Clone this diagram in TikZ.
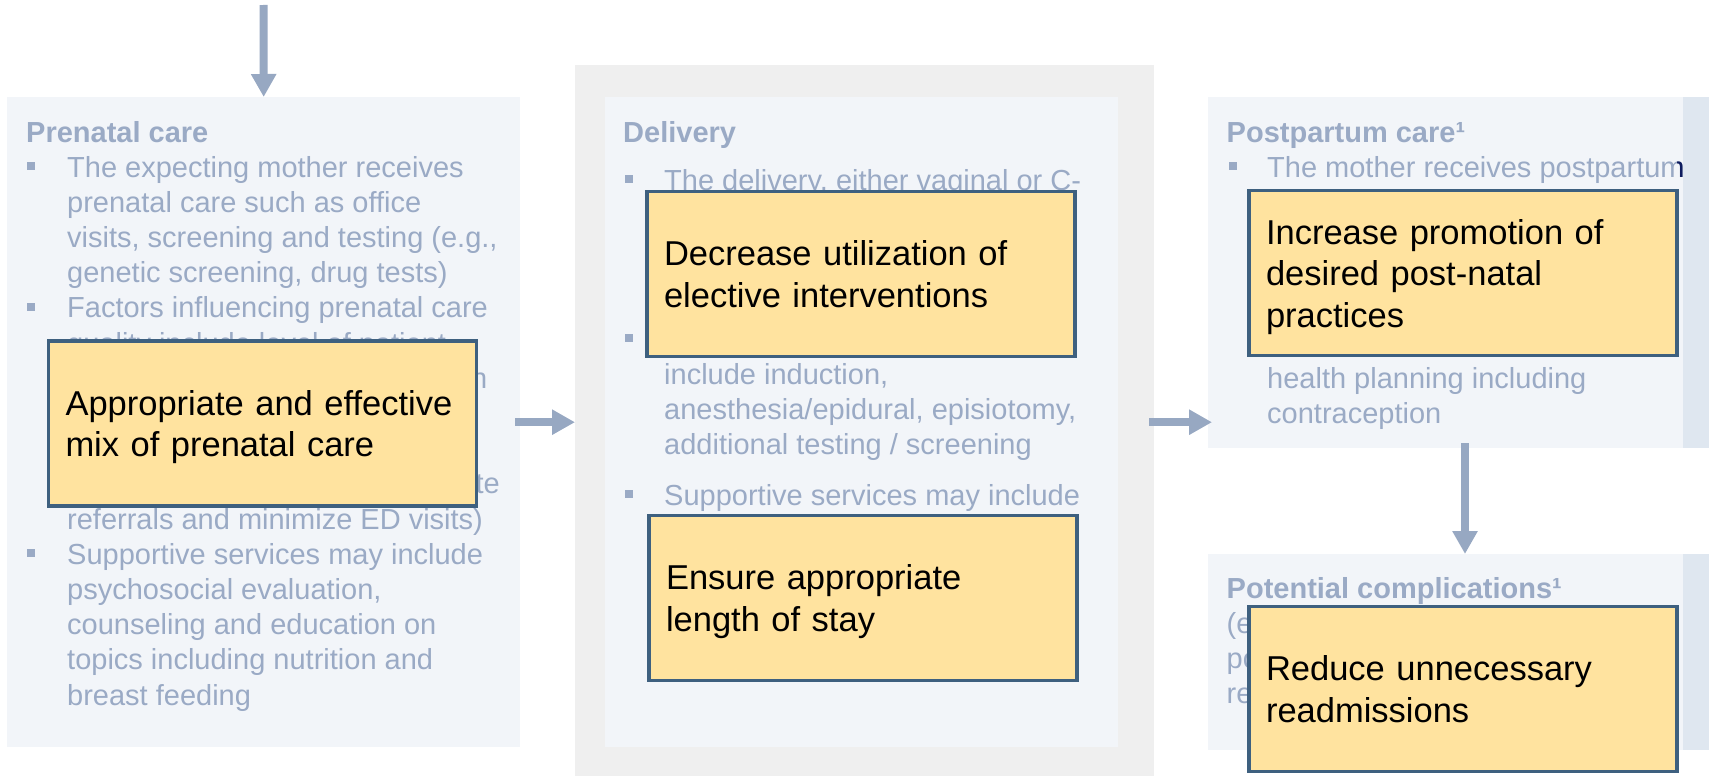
\documentclass[tikz,border=0pt]{standalone}
\usepackage{fontspec}
\setmainfont{Liberation Sans}
\usetikzlibrary{arrows.meta}

\definecolor{boxfill}{HTML}{F2F5F9}
\definecolor{outergray}{HTML}{EFEFEF}
\definecolor{stripblue}{HTML}{DFE7F0}
\definecolor{mutedtext}{HTML}{9AAAC5}
\definecolor{flowblue}{HTML}{97A8C2}
\definecolor{goalfill}{HTML}{FFE39F}
\definecolor{goalborder}{HTML}{3E607F}
\definecolor{inknavy}{HTML}{0D1B5E}

\newcommand\bodyfont{\fontsize{29}{35.2}\selectfont}
\newcommand\goalfont{\fontsize{34.5}{41.5}\selectfont}
% last line of a goal box: no depth, so the block centres on its baselines
\newcommand\lastline[1]{\raisebox{0pt}[\height][0pt]{#1}}

\tikzset{
  panel/.style={fill=#1, draw=none, inner sep=0pt, anchor=north west},
  bodytext/.style={text=mutedtext, font=\bodyfont, inner sep=0pt, anchor=base west},
  headtext/.style={bodytext, font=\bodyfont\bfseries},
  bulletsq/.style={fill=mutedtext, draw=none, inner sep=0pt, minimum size=8pt},
  goal/.style={draw=goalborder, line width=3.6pt, fill=goalfill,
    minimum width=428pt, minimum height=165pt, text width=394pt,
    inner xsep=17pt, inner ysep=0pt, align=left,
    font=\goalfont, text=black},
  flow/.style={draw=flowblue, line width=8pt,
    -{Triangle[width=24pt,length=23pt]}},
}

\begin{document}
\begin{tikzpicture}[x=1pt,y=-1pt]
\useasboundingbox (0,0) rectangle (1709,776);

% panels
\node[panel=outergray, minimum width=579pt, minimum height=714pt] (dout) at (575,65) {};
\node[panel=boxfill, minimum width=513pt, minimum height=650pt] (pre) at (7,97) {};
\node[panel=boxfill, minimum width=513pt, minimum height=650pt] (din) at (605,97) {};
\node[panel=boxfill, minimum width=475pt, minimum height=351pt] (post) at (1208,97) {};
\node[panel=boxfill, minimum width=475pt, minimum height=196pt] (comp) at (1208,554) {};
\node[panel=stripblue, minimum width=30pt, minimum height=351pt] (stripa) at (1683,97) {};
\node[panel=stripblue, minimum width=30pt, minimum height=196pt] (stripb) at (1683,554) {};

% prenatal care
\node[headtext] (pre-h) at (26,142) {Prenatal care};
\foreach \t [count=\k from 0] in {{The expecting mother receives},{prenatal care such as office},
  {visits, screening and testing (e.g.,},{genetic screening, drug tests)},
  {Factors influencing prenatal care},{quality include level of patient}}
  \node[bodytext] (pre-a\k) at (67,177+35.2*\k) {\t};
\node[bodytext, anchor=base east] (pre-f6) at (487.5,388.2) {n};
\node[bodytext, anchor=base east] (pre-f9) at (500,493.8) {te};
\foreach \t [count=\k from 10] in {{referrals and minimize ED visits)},{Supportive services may include},
  {psychosocial evaluation,},{counseling and education on},
  {topics including nutrition and},{breast feeding}}
  \node[bodytext] (pre-b\k) at (67,177+35.2*\k) {\t};
\node[bulletsq] (pre-s1) at (31,166) {};
\node[bulletsq] (pre-s2) at (31,306.8) {};
\node[bulletsq] (pre-s3) at (31,553.2) {};

% delivery
\node[headtext] (del-h) at (623,142) {Delivery};
\node[bodytext] (del-l1) at (664,190) {The delivery, either vaginal or C-};
\node[bodytext] (del-l2) at (664,384) {include induction,};
\node[bodytext] (del-l3) at (664,419) {anesthesia/epidural, episiotomy,};
\node[bodytext] (del-l4) at (664,454) {additional testing / screening};
\node[bodytext] (del-l5) at (664,505) {Supportive services may include};
\node[bulletsq] (del-s1) at (629,179) {};
\node[bulletsq] (del-s2) at (629,338) {};
\node[bulletsq] (del-s3) at (629,494) {};

% postpartum care
\node[headtext] (post-h) at (1226.5,142) {Postpartum care¹};
\node[bodytext] (post-l1) at (1267,177) {The mother receives postpartum};
\node[bodytext] (post-l2) at (1267,388) {health planning including};
\node[bodytext] (post-l3) at (1267,423) {contraception};
\node[bulletsq] (post-s1) at (1232.5,166) {};
\begin{scope}
  \clip (1677,140) rectangle (1709,200);
  \node[bodytext, text=inknavy] (post-l1dark) at (1267,177) {The mother receives postpartum};
\end{scope}

% potential complications
\node[headtext] (comp-h) at (1226.5,598) {Potential complications¹};
\node[bodytext] (comp-l1) at (1226.5,633) {(e};
\node[bodytext] (comp-l2) at (1226.5,668) {po};
\node[bodytext] (comp-l3) at (1226.5,703) {re};

% goal boxes
\node[goal] (mix) at (262.5,423.5) {Appropriate and effective\\\lastline{mix of prenatal care}};
\node[goal] (dec) at (861,274) {Decrease utilization of\\\lastline{elective interventions}};
\node[goal] (los) at (863,598) {Ensure appropriate\\\lastline{length of stay}};
\node[goal] (inc) at (1463,273) {Increase promotion of\\desired post-natal\\\lastline{practices}};
\node[goal] (red) at (1463,689) {Reduce unnecessary\\\lastline{readmissions}};

% flow arrows
\coordinate (topin) at (263.5,5);
\draw[flow] (topin) -- (pre.north);
\draw[flow] ([xshift=-5pt]pre.east) -- (dout.west |- pre.east);
\draw[flow] ([xshift=-5pt]dout.east) -- ([xshift=4pt]dout.east -| post.west);
\draw[flow] ([xshift=2pt,yshift=5pt]inc.center |- post.south) -- ([xshift=2pt]inc.center |- comp.north);
\end{tikzpicture}
\end{document}
